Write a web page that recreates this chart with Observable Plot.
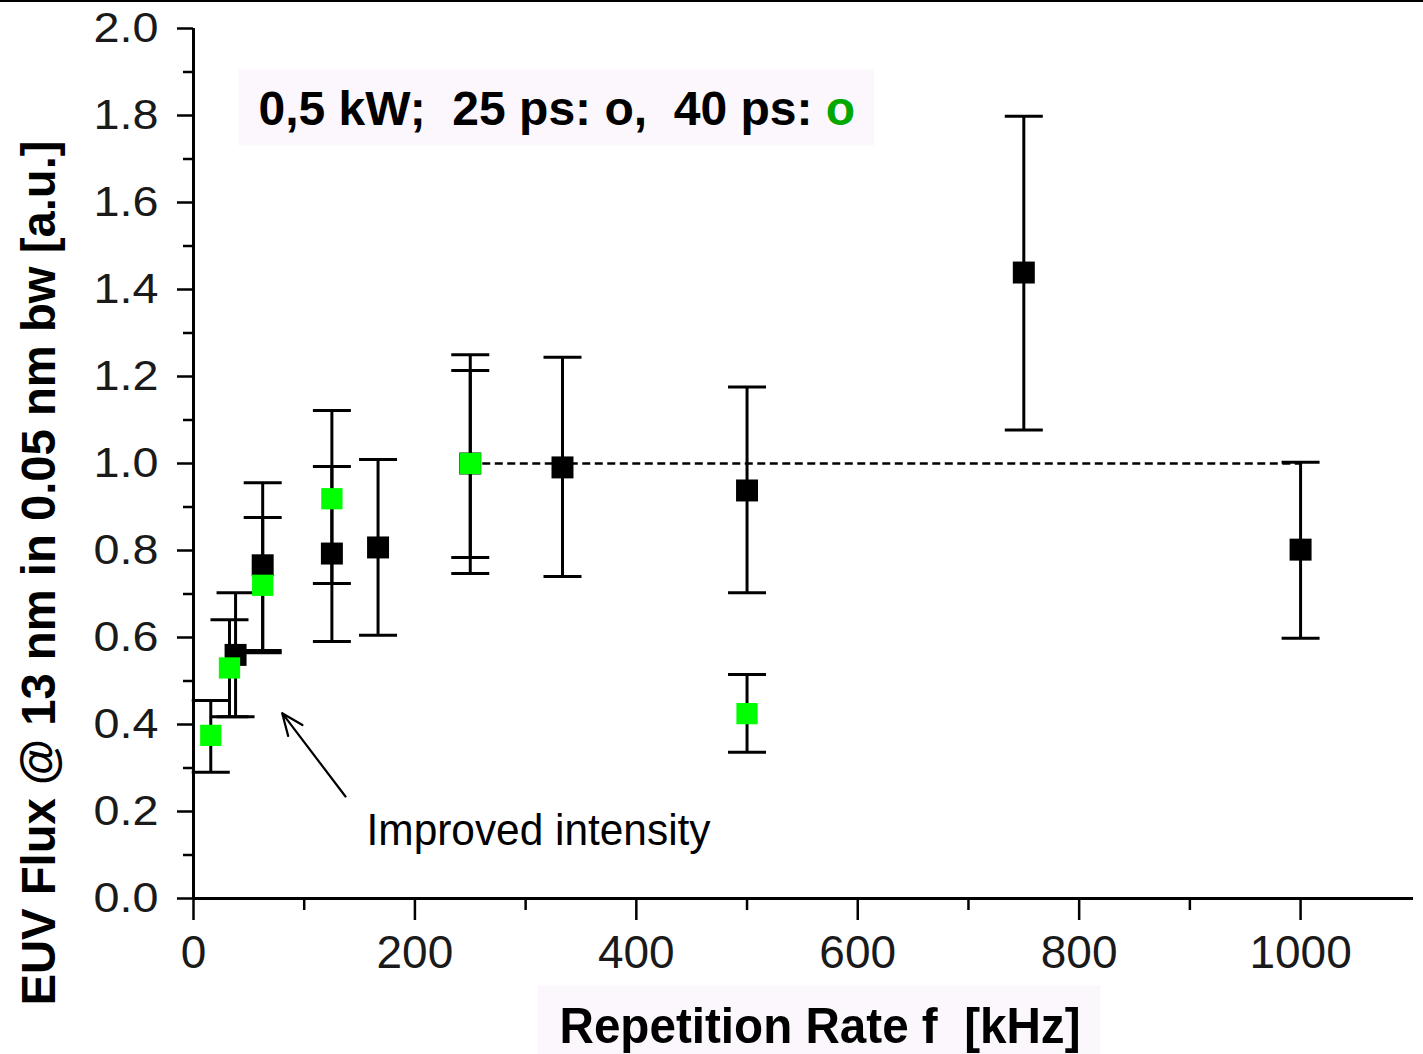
<!DOCTYPE html>
<html>
<head>
<meta charset="utf-8">
<script src="https://cdn.jsdelivr.net/npm/d3@7"></script>
<script src="https://cdn.jsdelivr.net/npm/@observablehq/plot@0.6"></script>
<style>
  html, body { margin: 0; padding: 0; background: #fff; }
  #chart svg { display: block; }
  #chart text { white-space: pre; }
</style>
</head>
<body>
<div id="chart"></div>
<script>
// ---- Data ----
// 25 ps series (black squares): repetition rate [kHz], flux, error bar low/high
const blackFreq = [38, 62.5, 125, 166.7, 250, 333.3, 500, 750, 1000];
const blackFlux = [0.56, 0.766, 0.793, 0.807, 1.0, 0.991, 0.938, 1.439, 0.802];
const blackLow  = [0.418, 0.570, 0.591, 0.605, 0.784, 0.740, 0.703, 1.077, 0.598];
const blackHigh = [0.703, 0.956, 0.993, 1.009, 1.214, 1.244, 1.176, 1.798, 1.003];

// 40 ps series (green squares)
const greenFreq = [15.6, 32.5, 62.5, 125, 250, 500];
const greenFlux = [0.375, 0.53, 0.72, 0.919, 1.0, 0.425];
const greenLow  = [0.290, 0.418, 0.565, 0.724, 0.747, 0.336];
const greenHigh = [0.455, 0.641, 0.876, 1.122, 1.250, 0.515];

// dashed reference level
const refLine = [{from: 250, to: 1000, level: 1.0}];

// ticks
const xMajor = [0, 200, 400, 600, 800, 1000];
const xMinor = [100, 300, 500, 700, 900];
const yMajor = [0, 0.2, 0.4, 0.6, 0.8, 1.0, 1.2, 1.4, 1.6, 1.8, 2.0];
const yMinor = [0.1, 0.3, 0.5, 0.7, 0.9, 1.1, 1.3, 1.5, 1.7, 1.9];

// texts
const yTitle = "EUV Flux @ 13 nm in 0.05 nm bw [a.u.]";
const xTitle = "Repetition Rate f  [kHz]";
const legendMain = "0,5 kW;  25 ps: o,  40 ps: ";
const legendGreen = "o";
const noteText = "Improved intensity";
// annotation (data space)
const noteArrow = [{fx1: 137.3, v1: 0.2345, fx2: 80.1, v2: 0.426}];
const noteLabel = [{f: 156.3, v: 0.124, label: noteText}];

// ---- Build tables ----
const flux25 = blackFreq.map((f, i) => ({f, v: blackFlux[i], lo: blackLow[i], hi: blackHigh[i]}));
const flux40 = greenFreq.map((f, i) => ({f, v: greenFlux[i], lo: greenLow[i], hi: greenHigh[i]}));

const capSymbol = {draw(ctx) { ctx.moveTo(-19, 0); ctx.lineTo(19, 0); }};
const errorMarks = (data) => [
  Plot.ruleX(data, {x: "f", y1: "lo", y2: "hi", stroke: "black", strokeWidth: 3}),
  Plot.dot(data, {x: "f", y: "lo", symbol: capSymbol, r: 1, fill: "none", stroke: "black", strokeWidth: 3}),
  Plot.dot(data, {x: "f", y: "hi", symbol: capSymbol, r: 1, fill: "none", stroke: "black", strokeWidth: 3})
];

const GREEN = "#00ff00";
const FONT = "'Liberation Sans', Arial, Helvetica, sans-serif";

const chart = Plot.plot({
  width: 1423,
  height: 1054,
  marginLeft: 193,
  marginRight: 10,
  marginTop: 28,
  marginBottom: 156,
  style: {fontFamily: FONT, background: "white", color: "black", overflow: "visible"},
  x: {domain: [0, 1102], label: null},
  y: {domain: [0, 2], label: null},
  marks: [
    // axes
    Plot.axisY({ticks: yMajor, tickSize: 16, tickPadding: 19, tickFormat: d3.format(".1f"),
      fontSize: 42, fill: "#1a1a1a", stroke: "black", strokeWidth: 2.5, label: null}),
    Plot.axisY({ticks: yMinor, tickSize: 10, tickFormat: () => "", stroke: "black", strokeWidth: 2.5, label: null}),
    Plot.axisX({ticks: xMajor, tickSize: 22, tickPadding: 15, tickFormat: d3.format("d"),
      fontSize: 46, fill: "#1a1a1a", stroke: "black", strokeWidth: 2.5, label: null}),
    Plot.axisX({ticks: xMinor, tickSize: 12, tickFormat: () => "", stroke: "black", strokeWidth: 2.5, label: null}),
    Plot.ruleX([0], {stroke: "black", strokeWidth: 3}),
    Plot.ruleY([0], {stroke: "black", strokeWidth: 3}),

    // dashed reference
    Plot.ruleY(refLine, {y: "level", x1: "from", x2: "to", stroke: "black", strokeWidth: 2.5, strokeDasharray: "8,4.5"}),

    // error bars
    ...errorMarks(flux25),
    ...errorMarks(flux40),

    // squares
    Plot.dot(flux25, {x: "f", y: "v", symbol: "square", r: 12.4, fill: "black", stroke: "none"}),
    Plot.dot(flux40, {x: "f", y: "v", symbol: "square", r: 12.0, fill: GREEN, stroke: "none"}),

    // annotation
    Plot.arrow(noteArrow, {x1: "fx1", y1: "v1", x2: "fx2", y2: "v2", stroke: "black", strokeWidth: 2.2, headLength: 16, headAngle: 45}),
    Plot.text(noteLabel, {x: "f", y: "v", text: "label", textAnchor: "start", lineAnchor: "bottom",
      fontSize: 44, fill: "black"}),

    // titles
    Plot.text([yTitle], {frameAnchor: "left", rotate: -90, dx: -154, dy: 109.5, textAnchor: "middle",
      fontSize: 48, fontWeight: "bold", fill: "black"}),
    Plot.text([xTitle], {frameAnchor: "bottom", dx: 16.5, dy: 144, textAnchor: "middle", lineAnchor: "bottom",
      fontSize: 50, fontWeight: "bold", fill: "black"}),

    // legend text (the trailing green "o" is appended as a tspan below)
    Plot.text([legendMain], {frameAnchor: "top-left", dx: 65, dy: 96, textAnchor: "start", lineAnchor: "bottom",
      fontSize: 48, fontWeight: "bold", fill: "black"})
  ]
});

document.getElementById("chart").appendChild(chart);

// ---- Post-processing (styling) ----
const svgNode = chart.tagName.toLowerCase() === "svg" ? chart : chart.querySelector("svg");
const svg = d3.select(svgNode);

function findText(str) {
  return svg.selectAll("text").filter(function() { return this.textContent === str; });
}
function fit(sel, len) {
  sel.attr("textLength", len).attr("lengthAdjust", "spacingAndGlyphs");
}

// legend: one text element, last "o" green
const legendSel = findText(legendMain);
legendSel.append("tspan").attr("fill", "#00a800").text(legendGreen);

fit(findText(yTitle), 865);
fit(findText(xTitle), 521);
fit(findText(noteText), 344);

// widen y tick labels
svg.selectAll('g[aria-label="y-axis tick label"] text')
  .filter(function() { return this.textContent.length > 0; })
  .attr("textLength", 65).attr("lengthAdjust", "spacingAndGlyphs");

// pale backdrops behind the legend and the x title
const svgBox = svgNode.getBoundingClientRect();
function backdrop(nodes, padL, padR, padT, padB) {
  let x0 = Infinity, y0 = Infinity, x1 = -Infinity, y1 = -Infinity;
  nodes.forEach(n => {
    const b = n.getBoundingClientRect();
    x0 = Math.min(x0, b.left); y0 = Math.min(y0, b.top);
    x1 = Math.max(x1, b.right); y1 = Math.max(y1, b.bottom);
  });
  const first = svgNode.querySelector("g");
  const r = document.createElementNS("http://www.w3.org/2000/svg", "rect");
  r.setAttribute("x", x0 - svgBox.left - padL);
  r.setAttribute("y", y0 - svgBox.top - padT);
  r.setAttribute("width", (x1 - x0) + padL + padR);
  r.setAttribute("height", (y1 - y0) + padT + padB);
  r.setAttribute("fill", "#fcf7fc");
  svgNode.insertBefore(r, first);
}
backdrop(legendSel.nodes(), 20, 19, 12, 11);
backdrop(findText(xTitle).nodes(), 22, 20, 12, 20);

// thin frame line along the very top
svg.append("line").attr("x1", 0).attr("x2", 1423).attr("y1", 1).attr("y2", 1)
  .attr("stroke", "black").attr("stroke-width", 2);
</script>
</body>
</html>
